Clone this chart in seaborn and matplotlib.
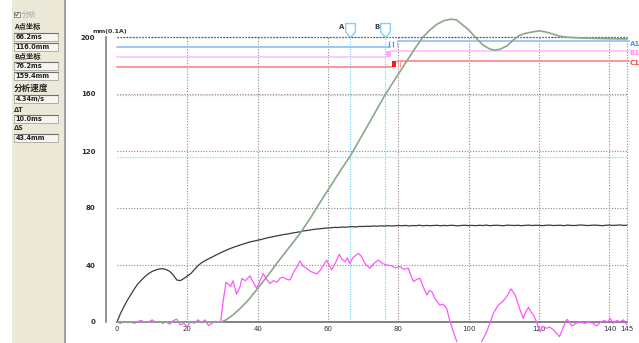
import numpy as np
import pandas as pd
import matplotlib
matplotlib.use("Agg")
import matplotlib.pyplot as plt
import seaborn as sns
from matplotlib.patches import Rectangle
from matplotlib.path import Path

sns.set_style("white")
plt.rcParams['font.family'] = ['DejaVu Sans']

# ---------------- data ----------------
x_ticks = [0, 20, 40, 60, 80, 100, 120, 140, 145]
y_ticks = [0, 40, 80, 120, 160, 200]
y_label = "mm(0.1A)"

# current curve (black), one sample per ms
cur_x = list(range(0, 146))
cur_y = [0, 6, 11, 15.5, 19.5, 23.5, 27, 29.5, 32, 34,
         35.5, 36.5, 37.2, 37.4, 36.8, 35.5, 33, 29.5, 29, 30.5,
         32.3, 34, 36.8, 39.5, 41.5, 43, 44.3, 45.5, 46.8, 48,
         49.2, 50.3, 51.4, 52.3, 53.2, 54, 54.8, 55.6, 56.3, 56.8,
         57.4,
         57.9, 58.6, 59.2, 59.7, 60.2, 60.7, 61.2, 61.6, 62, 62.5,
         62.9, 63.3, 63.9, 64.2, 64.6, 65, 65.3, 65.5, 65.8, 66,
         66.2, 66.4, 66.3, 66.6, 66.5, 66.8, 66.9, 66.7, 67.1, 67,
         67.2, 67.1, 67.4, 67.2, 67.5, 67.3, 67.6, 67.4, 67.5, 67.7,
         67.5, 67.8, 67.4, 67.7, 67.6, 67.9, 67.5, 67.8, 67.6, 67.7,
         67.9, 67.5, 67.8, 67.6, 67.9, 67.7, 67.5, 67.8, 67.9, 67.6,
         67.8, 67.6, 67.9, 67.7, 68, 67.6, 67.8, 67.9, 67.7, 67.6,
         68, 67.8, 67.7, 67.9, 67.6, 67.8, 68, 67.7, 67.9, 67.8,
         67.6, 67.9, 68, 67.7, 67.8, 67.9, 67.6, 68, 67.8, 67.7,
         67.9, 68.1, 67.8, 67.7, 67.9, 68, 67.8, 67.6, 67.9, 68,
         67.8, 67.9, 68.1, 67.8, 67.9]

# displacement curve (green)
disp_x = [0, 29.7, 31, 33, 35, 37, 40, 43, 46, 49, 52, 55, 58, 61, 64, 66.2,
          69, 72, 76.2, 80, 83, 85, 87, 89, 91, 93, 95, 96.5, 98, 100, 102,
          104, 106, 107.5, 109, 111, 112.5, 113.5, 114.5, 116, 118, 120, 122,
          124, 126, 128, 132, 136, 140, 145]
disp_y = [0, 0, 1.5, 5, 9.5, 14.5, 23.5, 33, 43, 52.5, 62, 73, 85, 96.5, 108,
          116, 128, 141, 159.4, 174, 185.5, 193, 200, 205, 209, 211.5, 212.5,
          212, 209, 205, 199.5, 194.5, 191.5, 190.8, 191.5, 194, 197.5, 199.5,
          201.2, 202.5, 203.5, 204.3, 203.5, 202, 200.5, 199.8, 199.3, 199,
          198.8, 198.6]

# speed curve (magenta)
spd_x = [0, 1, 2, 3, 4, 5, 6, 7, 8, 9, 10, 11, 12, 13, 14, 15, 16, 17, 18, 19,
         20, 21, 22, 23, 24, 25, 26, 27, 28, 29, 29.5,
         30.2, 31, 32.3, 33, 34, 35, 35.5, 36.5, 37.8, 38.5, 39.7, 40.5, 41.6,
         42.5, 43.5, 44.5, 45.5, 46.5, 47.3, 48.2, 49.2, 50.2, 51, 52, 53,
         53.9, 55, 56.8, 58, 59.6, 60.3, 61, 62, 63.2, 64, 64.8, 65.5, 66.2,
         67, 68.6, 69.5, 70.5, 71.9, 73, 74.3, 75.5, 76.7, 78, 79, 80.5, 81.5,
         82.8, 83.5, 84.3, 85.3, 86.2, 87, 88.1, 88.8, 89.5, 90.5, 91.8, 92.7,
         93.7, 94.5, 95.5, 96.6, 97.5, 99, 101, 102.5, 103.7, 105.1, 106, 107,
         108.4, 109.5, 110.8, 112, 113.2, 114, 114.6, 115.5, 116.2, 117, 117.7,
         118.4, 119.3, 120.3, 121, 122.2, 123, 124.1, 125, 125.8, 126.8, 127.9,
         128.6, 129.3, 130.5, 131.6, 133, 134.5, 136.4, 137.5, 138.5, 139.5,
         140.2, 141, 142, 143, 144, 145]
spd_y = [0, -1, 0.5, -0.5, 0, -1, 0.5, 1, -0.5, 0, 1.5, -0.5, 0.5, -1, 0, -1.5,
         1, 2, -2, -1, -3, 0.5, -1, 1.5, -0.5, 1.5, -2.5, -1, 0.5, 0, 0.3,
         15, 28, 25, 29, 19.5, 25, 30.5, 29, 32.3, 29, 23.6, 28, 34,
         30, 27, 29, 28, 31, 31.3, 30, 29.5, 35, 38, 42.8, 39,
         37.7, 35.5, 33.7, 37, 43.5, 40, 36.5, 41, 47.5, 44, 42.3, 45, 41,
         45, 48.2, 46, 41, 37.7, 41, 43.5, 41, 40, 39.5, 38, 38.8, 37,
         37.7, 33, 28.3, 30, 30.6, 25, 19, 22, 21.3, 16, 11.9, 12.5,
         9.6, 2, -6, -13.8, -20, -24, -22, -18, -13.8, -6.8, -1, 6.1,
         11.9, 14, 17.8, 23.2, 19, 13, 8.4, 2.6, 7, 10.3, 7,
         4.9, 0, -6.8, -3, -4.4, -3.5, -5.6, -8, -10.3, -4, 1.9,
         0, -2.8, -1, 0.2, -1, 0.5, -2.8, 0, 1, 0,
         2.6, -1, 1, 0.2, 1.5, -2]

# analysis cursors
point_a = (66.2, 116.0)
point_b = (76.2, 159.4)
cursor_names = ["A", "B"]

# threshold lines: (level before, level after)
thr_names = ["A1", "B1", "C1"]
thr_before = [192.8, 185.8, 179.2]
thr_after = [197.2, 190.4, 183.4]
thr_colors = ["#96c4f0", "#ffc4ff", "#ff8c8c"]
thr_label_colors = ["#4a9ae8", "#ff8cff", "#ff4a4a"]

# left panel
panel_rows = [("hdr", "A点坐标"), ("box", "66.2ms"), ("box", "116.0mm"),
              ("hdr", "B点坐标"), ("box", "76.2ms"), ("box", "159.4mm"),
              ("big", "分析速度"), ("box", "4.34m/s"), ("hdr", "ΔT"),
              ("box", "10.0ms"), ("hdr", "ΔS"), ("box", "43.4mm")]
panel_ys = [26.5, 36.5, 46.5, 56, 66, 76, 88.5, 99, 109, 118.5, 128, 138]

# ---------------- figure ----------------
W, H = 639, 343
fig = plt.figure(figsize=(W / 100, H / 100), dpi=100)

pax = fig.add_axes([0, 0, 1, 1])
pax.set_xlim(0, W)
pax.set_ylim(H, 0)
pax.axis('off')
pax.add_patch(Rectangle((12, 0), 52, H, facecolor="#ECE9D8", edgecolor="none"))
pax.plot([64.5, 64.5], [0, H], color="#9a9a90", lw=1.3)
# checkbox
pax.add_patch(Rectangle((14, 11.5), 5.5, 5.5, facecolor="white", edgecolor="#8a8a8a", lw=0.7))
pax.plot([15.2, 16.5, 18.6], [14.2, 15.8, 12.6], color="#707070", lw=0.8)
pax.text(21.5, 14.5, "分析", fontsize=5.3, color="#a8a8a8", va="center", ha="left",
         family=['Noto Sans CJK SC', 'DejaVu Sans'])
for (kind, txt), yy in zip(panel_rows, panel_ys):
    if kind in ("hdr", "big"):
        pax.text(14, yy, txt, fontsize=5.2 if kind == "hdr" else 6.2, color="#202020",
                 va="center", ha="left", fontweight="bold",
                 family=['Noto Sans CJK SC', 'DejaVu Sans'])
    else:
        pax.add_patch(Rectangle((14, yy - 4), 44, 8, facecolor="#F6F5EF",
                                edgecolor="#b0b0a8", lw=0.7))
        pax.plot([14, 58], [yy - 4, yy - 4], color="#707070", lw=0.8)
        pax.text(15.5, yy + 0.3, txt, fontsize=4.7, color="#202020", va="center", ha="left",
                 fontweight="bold")

# main axes
ax = fig.add_axes([106.45 / W, (H - 341.95) / H, 527.6 / W, 342 / H])
ax.patch.set_alpha(0)
ax.set_xlim(-3, 147)
ax.set_ylim(-14, 226)

# grid (only within 0..200 and 0..145)
ax.hlines(y_ticks[1:], 0, 145, colors="#8a8a8a", linestyles=(0, (1, 1.5)), lw=0.8, zorder=1)
ax.vlines(x_ticks[1:], 0, 200, colors="#8a8a8a", linestyles=(0, (1, 1.5)), lw=0.8, zorder=1)
ax.hlines([200], 0, 145, colors="#505050", linestyles=(0, (1, 1.5)), lw=0.9, zorder=1)

# cursor lines
ax.hlines([point_a[1], point_b[1]], 0, 145, colors="#7fd8f8", linestyles=(0, (1, 1)), lw=0.9, zorder=1.5)
ax.vlines([point_a[0], point_b[0]], 0, 200.5, colors="#7fd8f8", linestyles=(0, (1, 1)), lw=0.9, zorder=1.5)
shield = Path([(-0.7, 1), (0.7, 1), (0.7, -0.2), (0, -1), (-0.7, -0.2), (-0.7, 1)],
              [Path.MOVETO, Path.LINETO, Path.LINETO, Path.LINETO, Path.LINETO, Path.CLOSEPOLY])
for (cx, _), nm in zip([point_a, point_b], cursor_names):
    ax.plot([cx], [205], marker=shield, markersize=10, markerfacecolor="white",
            markeredgecolor="#86d0f2", markeredgewidth=1.0, clip_on=False, zorder=5)
    ax.text(cx - 2.2, 206.8, nm, fontsize=5, fontweight="bold", color="#404040",
            ha="center", va="center")

# threshold lines
b_end = [77.6, 76.5, 78.2]
a_start = [79.9, 77.9, 79.6]
for i in range(3):
    ax.plot([0, b_end[i]], [thr_before[i]] * 2, color=thr_colors[i], lw=1.3, zorder=2)
    ax.plot([a_start[i], 145.5], [thr_after[i]] * 2, color=thr_colors[i], lw=1.3, zorder=2)
    ax.text(145.8, thr_after[i] - 1.8, thr_names[i], fontsize=5, fontweight="bold",
            color=thr_label_colors[i], ha="left", va="center", clip_on=False)
# small marks near B
ax.vlines([77.3, 78.6], thr_before[0], thr_after[0], colors="#4a9ae8", lw=0.9, zorder=3)
ax.vlines([79.6], thr_before[0], thr_after[0], colors="#9cc8f0", lw=0.7, zorder=3)
ax.add_patch(Rectangle((76.5, thr_before[1]), 1.4, thr_after[1] - thr_before[1],
                       facecolor="#ffaaff", edgecolor="none", zorder=3))
ax.add_patch(Rectangle((78.2, thr_before[2]), 1.1, thr_after[2] - thr_before[2],
                       facecolor="#ff1a1a", edgecolor="none", zorder=3))
ax.vlines([79.9, 80.6], thr_before[2], thr_after[2], colors="#ff9090", lw=0.7, zorder=3)

# curves
df_cur = pd.DataFrame({"t": cur_x, "v": cur_y})
df_disp = pd.DataFrame({"t": disp_x, "v": disp_y})
df_spd = pd.DataFrame({"t": spd_x, "v": spd_y})
sns.lineplot(data=df_spd, x="t", y="v", ax=ax, color="#ff55ff", lw=0.9,
             estimator=None, sort=False, zorder=4)
sns.lineplot(data=df_cur, x="t", y="v", ax=ax, color="#3c3c3c", lw=0.9,
             estimator=None, sort=False, zorder=4)
sns.lineplot(data=df_disp, x="t", y="v", ax=ax, color="#88a888", lw=1.2,
             estimator=None, sort=False, zorder=4)

ax.set_xlabel("")
ax.set_ylabel("")
ax.set_xticks(x_ticks)
ax.set_xticklabels([str(v) for v in x_ticks])
ax.set_yticks(y_ticks)
ax.set_yticklabels([str(v) for v in y_ticks])
ax.tick_params(axis="y", length=6, width=1.0, color="#303030", labelsize=5,
               pad=2, labelcolor="#303030", direction="out")
ax.tick_params(axis="x", length=0, labelsize=5, pad=3, labelcolor="#303030")
for lab in ax.get_xticklabels() + ax.get_yticklabels():
    lab.set_fontweight("bold")
for s in ["top", "right"]:
    ax.spines[s].set_visible(False)
ax.spines["left"].set_bounds(0, 200)
ax.spines["left"].set_color("#808080")
ax.spines["left"].set_linewidth(1.2)
ax.spines["bottom"].set_position(("data", 0))
ax.spines["bottom"].set_bounds(0, 145)
ax.spines["bottom"].set_color("#606060")
ax.spines["bottom"].set_linewidth(1.1)
ax.text(-7.1, 204.2, y_label, fontsize=4.5, fontweight="bold", color="#303030",
        ha="left", va="center", clip_on=False)

fig.savefig("out.png", dpi=100)
